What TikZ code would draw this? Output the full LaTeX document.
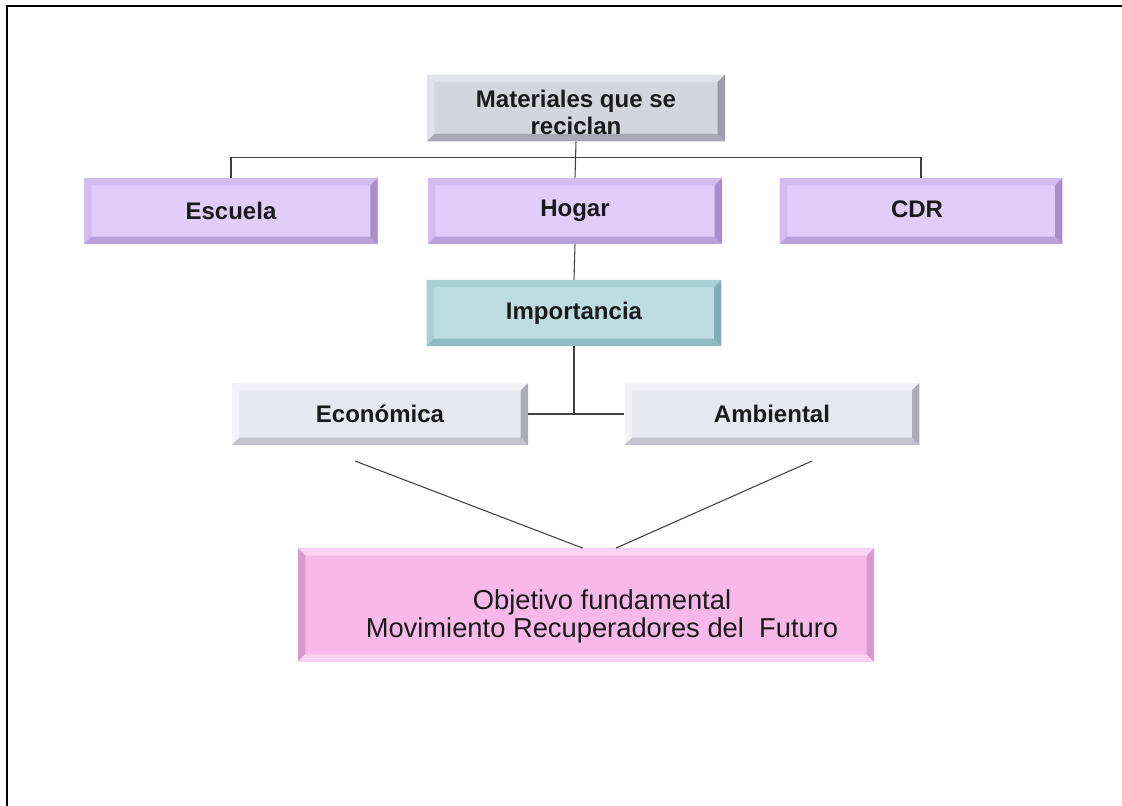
\documentclass[tikz,border=0pt]{standalone}
\usepackage{fontspec}
\setmainfont{Liberation Sans}
\usetikzlibrary{positioning}

\definecolor{matface}{HTML}{D5D5E0}
\definecolor{mattop}{HTML}{E2E2EA}
\definecolor{matbot}{HTML}{A9A9B6}
\definecolor{matside}{HTML}{9C9CAA}
\definecolor{lilface}{HTML}{E2CCFA}
\definecolor{liltop}{HTML}{D3BDF0}
\definecolor{lilbot}{HTML}{B9A0DA}
\definecolor{lilside}{HTML}{A98DCD}
\definecolor{impface}{HTML}{BEDDE3}
\definecolor{imptop}{HTML}{A9CFD7}
\definecolor{impbot}{HTML}{8FB9C3}
\definecolor{impside}{HTML}{7FAEB8}
\definecolor{ecoface}{HTML}{E8E8F2}
\definecolor{ecotop}{HTML}{F2F2F8}
\definecolor{ecobot}{HTML}{C2C2CE}
\definecolor{ecoside}{HTML}{ABABBA}
\definecolor{objface}{HTML}{F8B9EA}
\definecolor{objtop}{HTML}{FBD3F3}
\definecolor{objside}{HTML}{D99ACB}
\definecolor{txt}{HTML}{1A1A1A}
\definecolor{conn}{HTML}{404040}

\tikzset{
  bevel/.style n args={5}{fill=#1, inner sep=0pt, align=center, text=txt,
    font=\bfseries\fontsize{18}{20.5}\selectfont,
    path picture={
      \coordinate (nw) at (path picture bounding box.north west);
      \coordinate (ne) at (path picture bounding box.north east);
      \coordinate (sw) at (path picture bounding box.south west);
      \coordinate (se) at (path picture bounding box.south east);
      \fill[#2] (nw) -- (ne) -- ([shift={(-5.5pt,-5.5pt)}]ne) -- ([shift={(5.5pt,-5.5pt)}]nw) -- cycle;
      \fill[#4] (nw) -- (sw) -- ([shift={(5.5pt,5.5pt)}]sw) -- ([shift={(5.5pt,-5.5pt)}]nw) -- cycle;
      \fill[#3] (sw) -- (se) -- ([shift={(-5.5pt,5.5pt)}]se) -- ([shift={(5.5pt,5.5pt)}]sw) -- cycle;
      \fill[#5] (ne) -- (se) -- ([shift={(-5.5pt,5.5pt)}]se) -- ([shift={(-5.5pt,-5.5pt)}]ne) -- cycle;
    }},
  grisbox/.style={bevel={matface}{mattop}{matbot}{mattop}{matside}},
  lilabox/.style={bevel={lilface}{liltop}{lilbot}{liltop}{lilside}},
  azulbox/.style={bevel={impface}{imptop}{impbot}{imptop}{impside}},
  clarobox/.style={bevel={ecoface}{ecotop}{ecobot}{ecotop}{ecoside}},
  rosabox/.style={bevel={objface}{objtop}{objtop}{objside}{objside}},
  line/.style={draw=conn, line width=0.8pt}
}

\begin{document}
\begin{tikzpicture}[x=0.75pt, y=-0.75pt]

\useasboundingbox (0,0) rectangle (1122,806);
\draw[line width=1.5pt] (7,806) -- (7,6) -- (1122,6); % frame

% top levels
\node[grisbox, minimum width=223.5pt, minimum height=50pt] (mat) at (576,108) {\rule{0pt}{20pt}Materiales que se\\reciclan};
\node[lilabox, minimum width=220pt, minimum height=49.5pt] (esc) at (231,211) {Escuela};
\node[lilabox, minimum width=220.5pt, minimum height=49.5pt] (hog) at (575,211) {Hogar};
\node[lilabox, minimum width=212pt, minimum height=49.5pt] (cdr) at (921,211) {\raisebox{3pt}{CDR}\hspace{6pt}};
\node[azulbox, minimum width=221pt, minimum height=49.5pt] (imp) at (574,313) {Importancia};
\node[clarobox, minimum width=222pt, minimum height=46.5pt] (eco) at (380,414) {Económica};
\node[clarobox, minimum width=221pt, minimum height=46.5pt] (amb) at (772,414) {Ambiental};

% objective
\node[rosabox, minimum width=432pt, minimum height=85pt] (obj) at (586,605) {};
\node[align=center, text=txt, font=\fontsize{20.5}{21}\selectfont] (objtxt) at (602,616)
  {Objetivo fundamental\\Movimiento Recuperadores del\ \ Futuro};

\coordinate (ecod) at (355,461);
\coordinate (ambd) at (812,461);

\draw[line] (mat.south) -- (hog.north);
\draw[line] (esc.north) -- ++(0,-20) -| (cdr.north);
\draw[line] (hog.south) -- (imp.north);
\draw[line] (imp.south) -- (imp.south |- eco.east);
\draw[line] (eco.east) -- (amb.west);
\draw[line] (ecod) -- ([xshift=-2.5pt]obj.north);
\draw[line] (ambd) -- ([xshift=22.5pt]obj.north);

\end{tikzpicture}
\end{document}
